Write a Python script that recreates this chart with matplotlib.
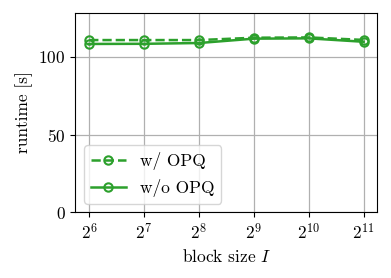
import numpy as np
import matplotlib
matplotlib.use('Agg')
import matplotlib.pyplot as plt

plt.rcParams['font.family'] = 'serif'
plt.rcParams['font.serif'] = ['cmr10']
plt.rcParams['mathtext.fontset'] = 'cm'
plt.rcParams['axes.formatter.use_mathtext'] = True
plt.rcParams['font.size'] = 12.5

block_sizes = [64, 128, 256, 512, 1024, 2048]
runtime_opq = [110.7, 110.7, 110.7, 112.2, 112.4, 110.8]
runtime_no_opq = [108.2, 108.3, 108.8, 111.6, 111.8, 109.6]

fig, ax = plt.subplots(figsize=(3.91, 2.78), dpi=100)
fig.subplots_adjust(left=0.193, right=0.965, top=0.955, bottom=0.236)
ax.plot(block_sizes, runtime_opq, color='tab:green', ls='--', marker='o', mfc='none',
        ms=6, lw=1.8, mew=1.5, label='w/ OPQ')
ax.plot(block_sizes, runtime_no_opq, color='tab:green', ls='-', marker='o', mfc='none',
        ms=6, lw=1.8, mew=1.5, label='w/o OPQ')
ax.set_xscale('log', base=2)
ax.set_xticks(block_sizes)
ax.set_ylim(0, 128.4)
ax.set_yticks([0, 50, 100])
ax.grid(True, color='#b0b0b0', lw=0.9)
ax.set_xlabel('block size $I$')
ax.set_ylabel('runtime [s]')
ax.legend(loc='lower left')
fig.savefig('out.png', dpi=100)
